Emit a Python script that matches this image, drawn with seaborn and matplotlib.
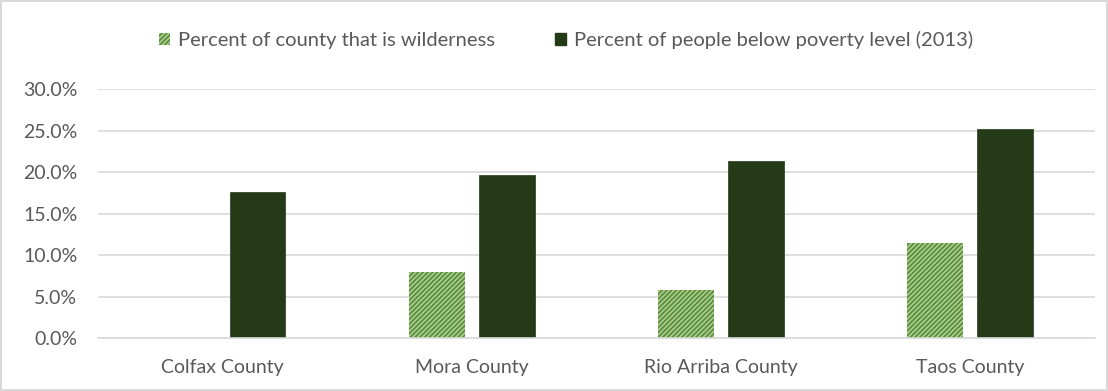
import matplotlib
matplotlib.use("Agg")
import matplotlib.pyplot as plt
import matplotlib.patches as mpatches
import seaborn as sns
import pandas as pd
from matplotlib.ticker import PercentFormatter

counties = ["Colfax County", "Mora County", "Rio Arriba County", "Taos County"]
wilderness_pct = [0.0, 7.9, 5.8, 11.5]
poverty_pct = [17.6, 19.6, 21.3, 25.2]
series_names = ["Percent of county that is wilderness",
                "Percent of people below poverty level (2013)"]
y_ticks = [0, 5, 10, 15, 20, 25, 30]

df = pd.DataFrame({
    "county": counties * 2,
    "series": [series_names[0]] * len(counties) + [series_names[1]] * len(counties),
    "value": wilderness_pct + poverty_pct,
})

sns.set_theme(style="white")
plt.rcParams["font.family"] = ["Lato", "DejaVu Sans"]
plt.rcParams["hatch.linewidth"] = 1.4

text_color = "#595959"
light_green = "#b2d69a"
stripe_green = "#5e8f3c"
dark_green = "#253a16"
hatch = "///////"

fig = plt.figure(figsize=(11.08, 3.91), dpi=100)
fig.patch.set_facecolor("white")
fig.patch.set_edgecolor("#d9d9d9")
fig.patch.set_linewidth(1.5)
ax = fig.add_axes([0.0885, 0.1355, 0.8995, 0.6365])

sns.barplot(data=df, x="county", y="value", hue="series",
            palette=[light_green, dark_green], width=0.56, gap=0.2,
            ax=ax, legend=False, errorbar=None, saturation=1)

n = len(counties)
for bar in ax.patches[:n]:
    bar.set_hatch(hatch)
    bar.set_edgecolor(stripe_green)
    bar.set_linewidth(0)
for bar in ax.patches[n:2 * n]:
    bar.set_edgecolor(dark_green)
    bar.set_linewidth(0.5)

ax.set_ylim(0, 30)
ax.set_xlim(-0.5, n - 0.5)
ax.set_yticks(y_ticks)
ax.yaxis.set_major_formatter(PercentFormatter(decimals=1))
ax.grid(axis="y", color="#d9d9d9", linewidth=1.2)
ax.set_axisbelow(True)
for s in ["left", "right", "top"]:
    ax.spines[s].set_visible(False)
ax.spines["bottom"].set_color("#d9d9d9")
ax.spines["bottom"].set_linewidth(1.2)
ax.set_xlabel("")
ax.set_ylabel("")
ax.tick_params(axis="y", length=0, pad=15, labelsize=14, labelcolor=text_color)
ax.tick_params(axis="x", length=0, pad=15, labelsize=14, labelcolor=text_color)

handles = [
    mpatches.Patch(facecolor=light_green, edgecolor=stripe_green, hatch=hatch,
                   linewidth=0, label=series_names[0]),
    mpatches.Patch(facecolor=dark_green, edgecolor=dark_green, label=series_names[1]),
]
fig.legend(handles=handles, loc="center", bbox_to_anchor=(0.511, 0.897), ncol=2,
           frameon=False, fontsize=14.5, labelcolor=text_color,
           handlelength=0.55, handleheight=0.55, handletextpad=0.4, columnspacing=3.0)

fig.savefig("out.png", dpi=100, facecolor=fig.get_facecolor(), edgecolor=fig.get_edgecolor())
